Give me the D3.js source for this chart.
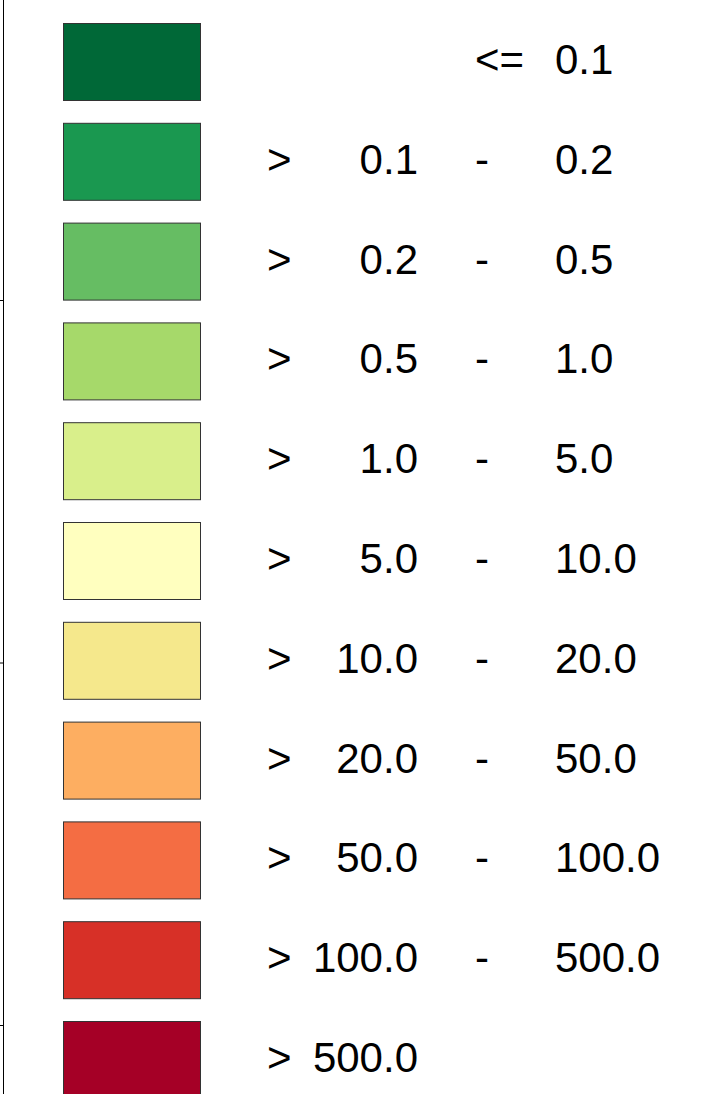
<!DOCTYPE html>
<html>
<head>
<meta charset="utf-8">
<script src="https://cdn.jsdelivr.net/npm/d3@7"></script>
<style>
  body { margin: 0; background: #fff; }
  svg { display: block; }
  text { font-family: "Liberation Sans", Arial, sans-serif; fill: #000; }
</style>
</head>
<body>
<div id="legend"></div>
<script>
// class breaks
var lowers = ["", "0.1", "0.2", "0.5", "1.0", "5.0", "10.0", "20.0", "50.0", "100.0", "500.0"];
var uppers = ["0.1", "0.2", "0.5", "1.0", "5.0", "10.0", "20.0", "50.0", "100.0", "500.0", ""];
var colors = ["#006837", "#1a9850", "#66bd63", "#a6d96a", "#d9ef8b", "#ffffbf",
              "#f5e88c", "#fdae61", "#f46d43", "#d73027", "#a50026"];
var frameTicks = [1, 2, 3];

var width = 728, height = 1094;

var svg = d3.select("#legend")
  .append("svg")
  .attr("width", width)
  .attr("height", height);

// row position by class index
var y = d3.scaleLinear()
  .domain([0, 1])
  .range([23, 122.8]);
var boxH = 77;

// frame edge of the neighbouring panel on the left
var f = d3.scaleLinear()
  .domain([0, 1])
  .range([-62.5, 300]);
var frame = svg.append("g")
  .attr("transform", "translate(3.5,0)")
  .call(d3.axisLeft(f).tickValues(frameTicks).tickSize(4).tickFormat(""));
frame.select(".domain").attr("d", "M0,0V" + height).attr("stroke", "#000");
frame.selectAll(".tick line").attr("stroke", "#000");

var rows = svg.selectAll("g.row")
  .data(colors)
  .enter()
  .append("g")
  .attr("class", "row")
  .attr("transform", function(d, i) { return "translate(0," + y(i) + ")"; });

rows.append("rect")
  .attr("x", 63.5)
  .attr("y", 0.5)
  .attr("width", 137)
  .attr("height", boxH)
  .attr("fill", function(d) { return d; })
  .attr("stroke", "#333")
  .attr("stroke-width", 1);

var fs = 42, base = 51;

rows.filter(function(d, i) { return lowers[i] !== ""; })
  .append("text")
  .attr("x", 267)
  .attr("y", base)
  .attr("font-size", fs)
  .text(">");

rows.append("text")
  .attr("x", 418)
  .attr("y", base)
  .attr("font-size", fs)
  .attr("text-anchor", "end")
  .text(function(d, i) { return lowers[i]; });

rows.filter(function(d, i) { return uppers[i] !== ""; })
  .append("text")
  .attr("x", 475)
  .attr("y", base)
  .attr("font-size", fs)
  .text(function(d) { return lowers[colors.indexOf(d)] === "" ? "<=" : "-"; });

rows.append("text")
  .attr("x", 555)
  .attr("y", base)
  .attr("font-size", fs)
  .text(function(d, i) { return uppers[i]; });
</script>
</body>
</html>
